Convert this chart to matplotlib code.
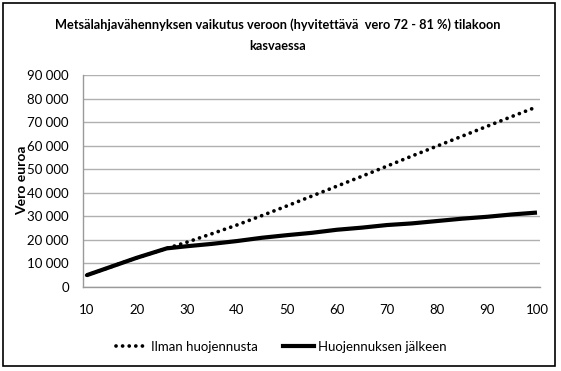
import matplotlib
matplotlib.use("Agg")
import matplotlib.pyplot as plt
from matplotlib.patches import Rectangle
from matplotlib.lines import Line2D

plt.rcParams['font.family'] = ['Lato', 'DejaVu Sans']

# Data
hectares = [10, 15, 20, 26, 30, 35, 40, 45, 50, 55, 60, 65, 70, 75, 80, 85, 90, 95, 100]
ilman_huojennusta = [5000, 8700, 12400, 16400, 19000, 22600, 26300, 30300, 34400, 38600,
                     42800, 47000, 51300, 55600, 59800, 64000, 68200, 72400, 76500]
huojennuksen_jalkeen = [5000, 8700, 12400, 16400, 17300, 18300, 19500, 20900, 22000, 23000,
                        24300, 25200, 26300, 27000, 28000, 29000, 29800, 30800, 31600]
x_ticks = [10, 20, 30, 40, 50, 60, 70, 80, 90, 100]
y_ticks = [0, 10000, 20000, 30000, 40000, 50000, 60000, 70000, 80000, 90000]
y_tick_labels = ["0", "10 000", "20 000", "30 000", "40 000", "50 000",
                 "60 000", "70 000", "80 000", "90 000"]
title = "Metsälahjavähennyksen vaikutus veroon (hyvitettävä  vero 72 - 81 %) tilakoon\nkasvaessa"
y_label = "Vero euroa"
series_names = ["Ilman huojennusta", "Huojennuksen jälkeen"]

DOT = (0, (0.01, 1.75))

fig = plt.figure(figsize=(5.61, 3.71), dpi=100)
fig.patch.set_facecolor("white")

# outer chart border
fig.add_artist(Rectangle((3/561, 1 - 366/371), 552/561, 363/371, transform=fig.transFigure,
                         fill=False, edgecolor="black", linewidth=1.2))

ax = fig.add_axes([82.7/561, 1 - 287/371, (540 - 82.7)/561, (287 - 75)/371])
ax.plot(hectares, ilman_huojennusta, color="black", linewidth=2.7,
        linestyle=DOT, dash_capstyle="round", label=series_names[0])
ax.plot(hectares, huojennuksen_jalkeen, color="black", linewidth=3.0,
        solid_capstyle="butt", label=series_names[1])

ax.set_xlim(9.2, 100.6)
ax.set_ylim(0, 90000)
ax.set_xticks(x_ticks)
ax.set_xticklabels([str(v) for v in x_ticks])
ax.set_yticks(y_ticks)
ax.set_yticklabels(y_tick_labels)
ax.tick_params(axis="both", length=0, labelsize=9.5, colors="black")
ax.tick_params(axis="x", pad=12)
ax.tick_params(axis="y", pad=10)
ax.grid(axis="y", color="#b0b0b0", linewidth=1.0)
ax.set_axisbelow(True)
for s in ["top", "right"]:
    ax.spines[s].set_visible(False)
for s in ["left", "bottom"]:
    ax.spines[s].set_color("#9a9a9a")
    ax.spines[s].set_linewidth(1.0)

fig.text(278/561, 1 - 35/371, title, ha="center", va="center", fontsize=9.2,
         fontweight="bold", linespacing=1.9)
fig.text(22/561, 1 - 180/371, y_label, rotation=90, ha="center", va="center",
         fontsize=10, fontweight="bold")

handles = [Line2D([], [], color="black", linewidth=2.7, linestyle=DOT,
                  dash_capstyle="round"),
           Line2D([], [], color="black", linewidth=3.0)]
fig.legend(handles, series_names, loc="center", bbox_to_anchor=(281/561, 1 - 347/371),
           ncol=2, frameon=False, fontsize=9.5, handlelength=2.4, handletextpad=0.25,
           columnspacing=1.9)

fig.savefig("out.png", dpi=100)
